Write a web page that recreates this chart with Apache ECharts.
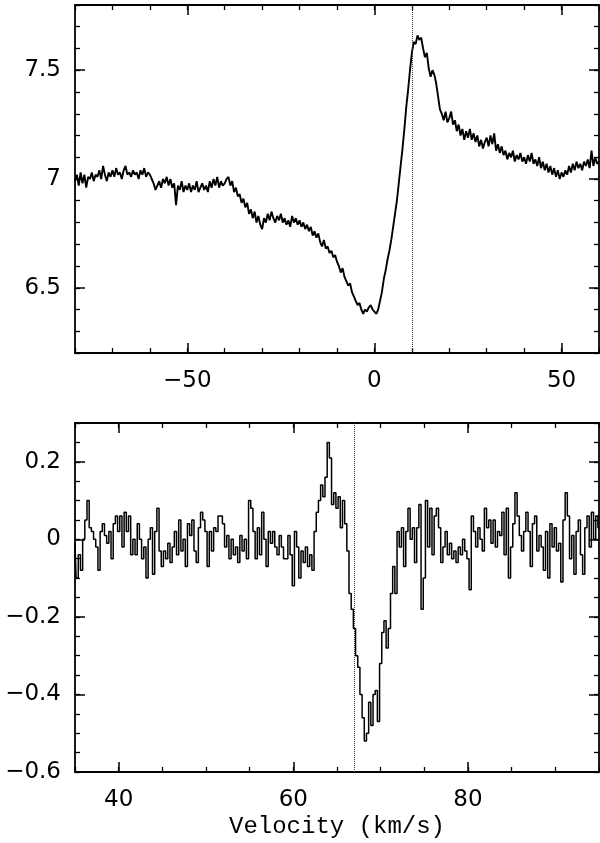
<!DOCTYPE html>
<html>
<head>
<meta charset="utf-8">
<style>
  html, body { margin: 0; padding: 0; background: #fff; }
  #chart { width: 600px; height: 843px; }
</style>
<script src="https://cdn.jsdelivr.net/npm/echarts@6/dist/echarts.min.js"></script>
</head>
<body>
<div id="chart"></div>
<script>
// upper spectrum, 0.5 km/s channels from -80 to 60
const topStart = -80
const topStep = 0.5
const topFlux = [
  6.99, 7.02, 6.97, 7.03, 6.98, 7.02, 6.96, 7.01, 7.00, 7.03, 6.99, 7.02, 7.01, 7.04, 7.00, 7.06, 7.02, 6.99, 7.03, 7.01,
  7.04, 7.01, 7.05, 7.02, 7.03, 7.00, 7.04, 7.06, 7.02, 7.03, 7.01, 7.04, 7.02, 7.03, 7.00, 7.04, 7.02, 7.05, 7.01, 7.03,
  7.02, 7.00, 6.98, 6.95, 6.97, 6.99, 6.96, 7.00, 6.98, 7.01, 6.97, 7.00, 6.96, 6.98, 6.88, 6.97, 6.95, 6.99, 6.94, 6.97,
  6.95, 6.98, 6.94, 6.97, 6.95, 6.99, 6.94, 6.96, 6.98, 6.95, 6.97, 6.94, 6.99, 6.96, 7.00, 6.97, 7.01, 6.96, 6.99, 6.97,
  6.98, 7.00, 7.01, 6.97, 6.99, 6.94, 6.96, 6.92, 6.93, 6.89, 6.91, 6.87, 6.89, 6.84, 6.86, 6.82, 6.85, 6.80, 6.83, 6.79,
  6.77, 6.82, 6.80, 6.84, 6.81, 6.85, 6.82, 6.80, 6.83, 6.81, 6.84, 6.80, 6.82, 6.79, 6.81, 6.78, 6.83, 6.80, 6.82, 6.79,
  6.81, 6.78, 6.80, 6.77, 6.79, 6.76, 6.78, 6.74, 6.76, 6.73, 6.75, 6.71, 6.69, 6.72, 6.68, 6.69, 6.66, 6.67, 6.64, 6.65,
  6.62, 6.60, 6.57, 6.59, 6.55, 6.53, 6.51, 6.52, 6.48, 6.46, 6.44, 6.42, 6.43, 6.40, 6.38, 6.40, 6.39, 6.41, 6.42, 6.40,
  6.39, 6.38, 6.40, 6.44, 6.48, 6.54, 6.58, 6.63, 6.67, 6.72, 6.78, 6.84, 6.90, 6.98, 7.06, 7.14, 7.23, 7.33, 7.41, 7.50,
  7.58, 7.63, 7.62, 7.66, 7.64, 7.65, 7.60, 7.56, 7.58, 7.51, 7.47, 7.50, 7.48, 7.44, 7.38, 7.32, 7.30, 7.27, 7.31, 7.26,
  7.28, 7.31, 7.25, 7.27, 7.22, 7.25, 7.20, 7.23, 7.18, 7.22, 7.19, 7.23, 7.18, 7.21, 7.17, 7.20, 7.15, 7.18, 7.14, 7.17,
  7.19, 7.15, 7.20, 7.16, 7.21, 7.13, 7.16, 7.12, 7.15, 7.11, 7.13, 7.09, 7.12, 7.10, 7.13, 7.08, 7.11, 7.09, 7.12, 7.08,
  7.10, 7.07, 7.11, 7.08, 7.12, 7.07, 7.09, 7.06, 7.10, 7.05, 7.08, 7.04, 7.07, 7.03, 7.06, 7.02, 7.05, 7.01, 7.04, 7.00,
  7.03, 7.01, 7.04, 7.02, 7.06, 7.03, 7.07, 7.04, 7.08, 7.05, 7.07, 7.04, 7.08, 7.06, 7.09, 7.05, 7.13, 7.06, 7.10, 7.07,
  7.08
]

// lower spectrum, 0.25 km/s channels from 35 to 95
const lowStart = 35
const lowStep = 0.25
const lowFlux = [
  -0.01, -0.10, -0.04, -0.08, 0.00, 0.05, 0.10, 0.03, 0.02, 0.00, -0.02, -0.08, 0.02, 0.04, 0.01, -0.01, 0.02, -0.05, 0.04, 0.06,
  0.02, 0.06, -0.02, 0.07, 0.02, 0.06, -0.04, 0.00, -0.04, 0.04, 0.00, -0.05, -0.02, -0.10, 0.00, 0.03, -0.09, 0.02, 0.08, -0.03,
  -0.07, -0.03, -0.05, -0.01, -0.06, -0.02, 0.02, -0.04, 0.05, -0.03, 0.00, -0.07, 0.04, 0.01, 0.05, -0.03, -0.06, 0.03, 0.07, 0.05,
  0.02, -0.07, 0.02, -0.03, 0.03, 0.02, 0.06, 0.06, 0.04, -0.02, 0.01, -0.05, 0.00, -0.04, -0.02, -0.06, 0.01, -0.03, 0.00, -0.05,
  0.10, 0.08, 0.02, -0.05, 0.03, -0.04, 0.07, 0.00, -0.07, 0.02, -0.01, 0.02, -0.02, -0.04, 0.01, -0.02, -0.05, -0.05, 0.01, -0.04,
  -0.12, 0.02, -0.02, -0.10, -0.03, -0.06, -0.02, -0.07, -0.04, -0.08, 0.02, 0.07, 0.10, 0.14, 0.11, 0.16, 0.25, 0.21, 0.09, 0.12,
  0.08, 0.11, 0.03, 0.10, 0.04, -0.03, -0.14, -0.18, -0.23, -0.30, -0.33, -0.40, -0.46, -0.52, -0.50, -0.42, -0.48, -0.40, -0.39, -0.47,
  -0.32, -0.24, -0.21, -0.28, -0.23, -0.14, -0.07, -0.14, 0.02, -0.02, 0.03, -0.07, 0.02, 0.08, 0.00, 0.03, -0.06, 0.03, 0.09, -0.18,
  -0.10, 0.10, -0.02, 0.08, -0.04, 0.06, 0.08, 0.03, -0.06, -0.02, 0.02, -0.04, -0.01, -0.05, -0.03, -0.06, -0.02, -0.04, 0.00, -0.03,
  -0.05, -0.13, 0.06, 0.02, -0.02, 0.03, 0.00, -0.03, 0.08, 0.03, 0.05, -0.01, 0.05, -0.02, 0.02, 0.01, 0.07, -0.04, 0.08, -0.10,
  -0.02, 0.04, 0.12, 0.06, 0.01, -0.03, 0.02, 0.07, 0.02, -0.07, 0.04, 0.06, -0.03, 0.01, -0.02, -0.08, 0.02, -0.10, 0.04, -0.02,
  0.03, -0.03, -0.01, -0.11, 0.05, 0.12, 0.06, -0.05, 0.01, -0.09, 0.02, 0.05, -0.04, -0.09, 0.03, 0.06, -0.02, 0.07, 0.00, 0.06,
  0.03
]

// dotted reference velocities
const topMarker = 10
const lowMarker = 67

// axis ranges and labelled ticks
const topXRange = [-80, 60]
const topYRange = [6.2, 7.8]
const lowXRange = [35, 95]
const lowYRange = [-0.6, 0.3]
const topXTicks = [-50, 0, 50]
const topYTicks = [6.5, 7, 7.5]
const lowXTicks = [40, 60, 80]
const lowYTicks = [-0.6, -0.4, -0.2, 0, 0.2]
const xTitle = 'Velocity (km/s)'

const chart = echarts.init(document.getElementById('chart'))

function fmt(v) {
  return String(v).replace('-', '\u2212')
}

// one frame side = minor-tick axis (with the line) + major-tick axis (with labels)
function side(grid, pos, range, step, majors, labelMargin, extra) {
  const minor = {
    type: 'value', gridIndex: grid, position: pos, min: range[0], max: range[1], interval: step,
    axisLine: { show: true, onZero: false, lineStyle: { color: '#000', width: 1.8 } },
    axisTick: { show: true, inside: true, length: 5, lineStyle: { color: '#000', width: 1.3 } },
    axisLabel: { show: false },
    splitLine: { show: false }
  }
  const major = {
    type: 'value', gridIndex: grid, position: pos, min: range[0], max: range[1], interval: step,
    axisLine: { show: false, onZero: false },
    axisTick: { show: true, inside: true, length: 10, customValues: majors, lineStyle: { color: '#000', width: 1.5 } },
    axisLabel: labelMargin == null ? { show: false } : {
      show: true, customValues: majors, margin: labelMargin, formatter: fmt,
      color: '#000', fontSize: 23, fontFamily: 'DejaVu Sans'
    },
    splitLine: { show: false }
  }
  return [minor, Object.assign(major, extra || {})]
}

const xAxes = [
  ...side(0, 'bottom', topXRange, 10, topXTicks, 17),
  ...side(0, 'top', topXRange, 10, topXTicks, null),
  ...side(1, 'bottom', lowXRange, 5, lowXTicks, 17, {
    name: xTitle, nameLocation: 'middle', nameGap: 43,
    nameTextStyle: { color: '#000', fontSize: 24, fontFamily: 'Liberation Mono' }
  }),
  ...side(1, 'top', lowXRange, 5, lowXTicks, null)
]
const yAxes = [
  ...side(0, 'left', topYRange, 0.1, topYTicks, 14),
  ...side(0, 'right', topYRange, 0.1, topYTicks, null),
  ...side(1, 'left', lowYRange, 0.05, lowYTicks, 14),
  ...side(1, 'right', lowYRange, 0.05, lowYTicks, null)
]

function marker(v) {
  return {
    silent: true, symbol: ['none', 'none'], label: { show: false },
    lineStyle: { type: 'dotted', color: '#333', width: 1 },
    data: [{ xAxis: v }]
  }
}

const option = {
  animation: false,
  backgroundColor: '#fff',
  grid: [
    { left: 75, top: 5, width: 524, height: 348 },
    { left: 75, top: 423, width: 524, height: 349 }
  ],
  xAxis: xAxes,
  yAxis: yAxes,
  series: [
    {
      type: 'line', xAxisIndex: 0, yAxisIndex: 0,
      data: topFlux.map((f, i) => [topStart + i * topStep, f]),
      showSymbol: false,
      lineStyle: { color: '#000', width: 1.9 },
      markLine: marker(topMarker)
    },
    {
      type: 'line', xAxisIndex: 4, yAxisIndex: 4, step: 'middle',
      data: lowFlux.map((f, i) => [lowStart + i * lowStep, f]),
      showSymbol: false,
      lineStyle: { color: '#000', width: 1.5 },
      markLine: marker(lowMarker)
    }
  ]
}

chart.setOption(option)
</script>
</body>
</html>
